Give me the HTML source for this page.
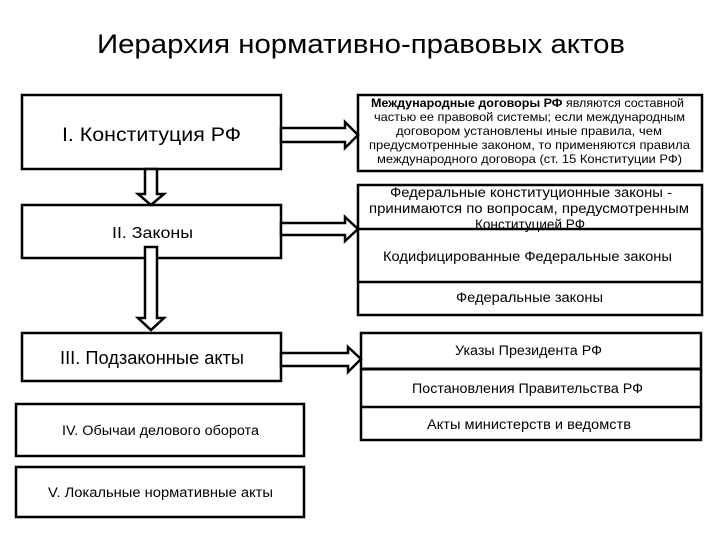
<!DOCTYPE html>
<html><head><meta charset="utf-8"><style>
body{margin:0;background:#fff}
svg{display:block}
text{font-family:"Liberation Sans","DejaVu Sans",sans-serif;fill:#000}
</style></head><body>
<svg width="720" height="540" viewBox="0 0 720 540" xmlns="http://www.w3.org/2000/svg">
<rect width="720" height="540" fill="#fff"/>
<text x="361" y="53" font-size="27" text-anchor="middle" textLength="528" lengthAdjust="spacingAndGlyphs">Иерархия нормативно-правовых актов</text>
<g fill="#fff" stroke="#000" stroke-width="2.5">
<rect x="22" y="95" width="259" height="74"/>
<rect x="22" y="205" width="259" height="53"/>
<rect x="22" y="333" width="259" height="48"/>
<rect x="16" y="404" width="288" height="52"/>
<rect x="16" y="467" width="288" height="50"/>
<rect x="358" y="95" width="344" height="76"/>
<rect x="358" y="185" width="344" height="130"/>
<rect x="361" y="333" width="340" height="107"/>
<line x1="358" y1="229" x2="702" y2="229"/>
<line x1="358" y1="282" x2="702" y2="282"/>
<line x1="361" y1="369" x2="701" y2="369" stroke-width="3"/>
<line x1="361" y1="407" x2="701" y2="407"/>
</g>
<g fill="#fff" stroke="#000" stroke-width="2.5" stroke-linejoin="miter">
<polygon points="145,169 157,169 157,194 164,194 151,205 138,194 145,194"/>
<polygon points="145,247 157,247 157,318 164,318 151,330 138,318 145,318"/>
<polygon points="281,128 345,128 345,122 358,135 345,148 345,142 281,142"/>
<polygon points="281,223 345,223 345,217 358,229 345,241 345,235 281,235"/>
<polygon points="281,353 348,353 348,347 361,359 348,372 348,366 281,366"/>
</g>
<g lengthAdjust="spacingAndGlyphs">
<text x="62" y="141" font-size="19" textLength="179" lengthAdjust="spacingAndGlyphs">I. Конституция РФ</text>
<text x="112" y="238" font-size="16" textLength="81" lengthAdjust="spacingAndGlyphs">II. Законы</text>
<text x="60" y="364" font-size="18" textLength="184" lengthAdjust="spacingAndGlyphs">III. Подзаконные акты</text>
<text x="62" y="435" font-size="13.5" textLength="197" lengthAdjust="spacingAndGlyphs">IV. Обычаи делового оборота</text>
<text x="48" y="497" font-size="13.5" textLength="225" lengthAdjust="spacingAndGlyphs">V. Локальные нормативные акты</text>
</g>
<g font-size="12">
<text x="371" y="107" textLength="313" lengthAdjust="spacingAndGlyphs"><tspan font-weight="bold">Международные договоры РФ</tspan> являются составной</text>
<text x="374" y="121" textLength="311" lengthAdjust="spacingAndGlyphs">частью ее правовой системы; если международным</text>
<text x="396" y="135" textLength="266" lengthAdjust="spacingAndGlyphs">договором установлены иные правила, чем</text>
<text x="369" y="149" textLength="321" lengthAdjust="spacingAndGlyphs">предусмотренные законом, то применяются правила</text>
<text x="377" y="163" textLength="305" lengthAdjust="spacingAndGlyphs">международного договора (ст. 15 Конституции РФ)</text>
</g>
<g font-size="13.5">
<text x="390" y="197" textLength="282" lengthAdjust="spacingAndGlyphs">Федеральные конституционные законы -</text>
<text x="369" y="213" textLength="320" lengthAdjust="spacingAndGlyphs">принимаются по вопросам, предусмотренным</text>
<text x="475" y="229" textLength="110" lengthAdjust="spacingAndGlyphs">Конституцией РФ</text>
<text x="383" y="261" textLength="289" lengthAdjust="spacingAndGlyphs">Кодифицированные Федеральные законы</text>
<text x="456" y="302" textLength="147" lengthAdjust="spacingAndGlyphs">Федеральные законы</text>
<text x="455" y="355" textLength="147" lengthAdjust="spacingAndGlyphs">Указы Президента РФ</text>
<text x="412" y="393" textLength="231" lengthAdjust="spacingAndGlyphs">Постановления Правительства РФ</text>
<text x="427" y="429" textLength="204" lengthAdjust="spacingAndGlyphs">Акты министерств и ведомств</text>
</g>
</svg>
</body></html>
